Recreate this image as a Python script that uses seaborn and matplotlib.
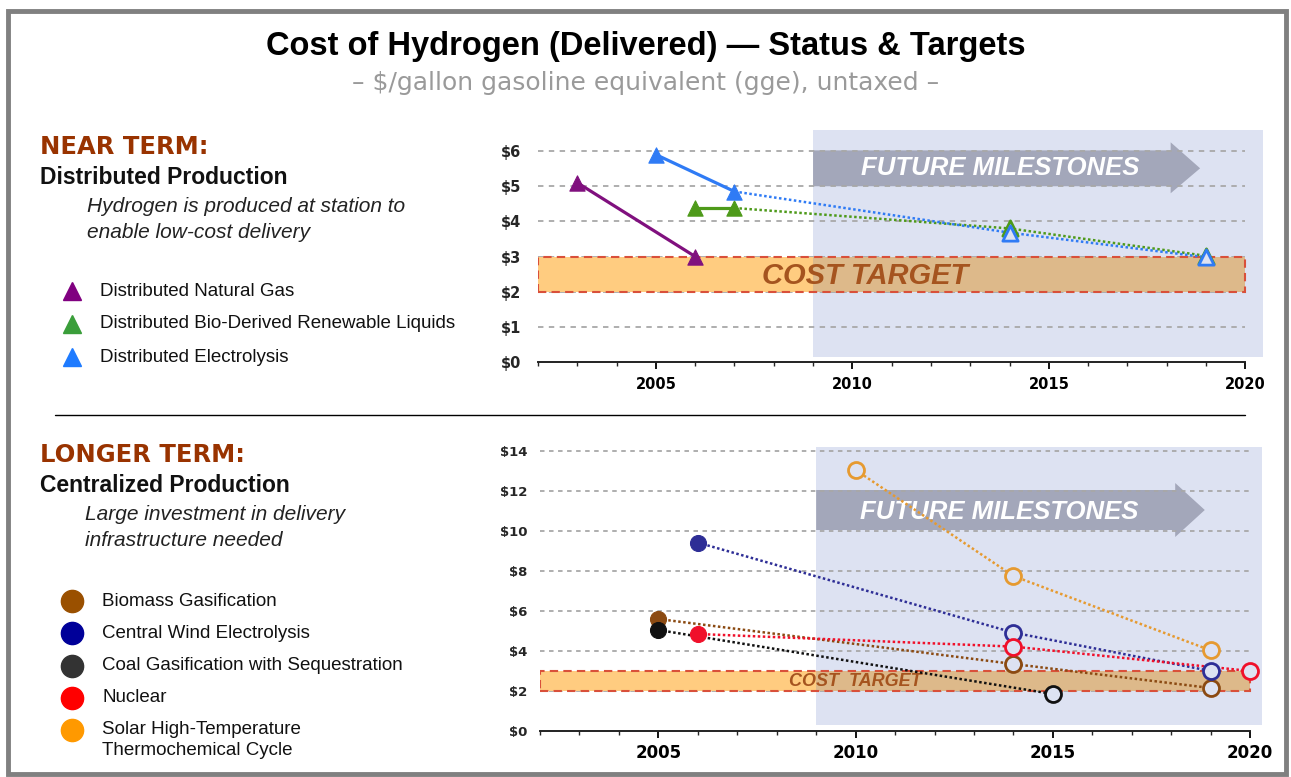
import matplotlib
matplotlib.use("Agg")
import matplotlib.pyplot as plt
import matplotlib.patches as mpatches
from matplotlib.ticker import MultipleLocator, FixedLocator, FuncFormatter
import seaborn as sns
import pandas as pd

# ---------------- data ----------------
# Near term: distributed production ($/gge)
ng_years = [2003, 2006]
ng_cost = [5.1, 3.0]
bio_years = [2006, 2007, 2014, 2019]
bio_cost = [4.38, 4.38, 3.8, 3.02]
elec_years = [2005, 2007, 2014, 2019]
elec_cost = [5.9, 4.85, 3.68, 2.98]
near_names = ["Distributed Natural Gas", "Distributed Bio-Derived Renewable Liquids",
              "Distributed Electrolysis"]
near_status_count = [2, 2, 2]   # leading points that are current status (filled)

# Longer term: centralized production ($/gge)
biomass_years = [2005, 2014, 2019]
biomass_cost = [5.6, 3.35, 2.15]
wind_years = [2006, 2014, 2019]
wind_cost = [9.42, 4.92, 3.0]
coal_years = [2005, 2015]
coal_cost = [5.05, 1.85]
nuclear_years = [2006, 2014, 2020]
nuclear_cost = [4.85, 4.22, 3.0]
solar_years = [2010, 2014, 2019]
solar_cost = [13.05, 7.75, 4.03]
long_names = ["Biomass Gasification", "Central Wind Electrolysis",
              "Coal Gasification with Sequestration", "Nuclear",
              "Solar High-Temperature\nThermochemical Cycle"]
long_status_count = [1, 1, 1, 1, 0]

target_low, target_high = 2.0, 3.0
milestone_start = 2009
near_yticks = [0, 1, 2, 3, 4, 5, 6]
long_yticks = [0, 2, 4, 6, 8, 10, 12, 14]
major_years = [2005, 2010, 2015, 2020]

# ---------------- style ----------------
sns.set_style("white")
plt.rcParams["font.family"] = ["Liberation Sans", "DejaVu Sans"]

W, H = 1291, 777
fig = plt.figure(figsize=(W / 100, H / 100), dpi=100)

SHADE = "#DDE2F2"
ORANGE_FILL = "#FFCC80"
TAN_FILL = "#DDB98A"
TARGET_EDGE = "#D9503A"
TARGET_TEXT = "#A5541F"
ARROW_COL = "#A3A7BA"
GRID_COL = "#A8A8A8"

# overlay axes in pixel coordinates for text / frame
ov = fig.add_axes([0, 0, 1, 1])
ov.set_xlim(0, W)
ov.set_ylim(H, 0)
ov.axis("off")

# frame
ov.add_patch(mpatches.Rectangle((8, 11), 1278, 763, fill=False, ec="#808080", lw=3.5))

ov.text(646, 46, "Cost of Hydrogen (Delivered) \u2014 Status & Targets", ha="center",
        va="center", fontsize=23.5, fontweight="bold", color="black")
ov.text(646, 83, "\u2013 $/gallon gasoline equivalent (gge), untaxed \u2013", ha="center",
        va="center", fontsize=18, color="#9A9A9A", family=["DejaVu Sans"])

# separator
ov.plot([55, 1245], [415, 415], color="black", lw=1.0)


def left_panel(y0, head, sub, italic_lines, italic_x):
    ov.text(40, y0, head, ha="left", va="center", fontsize=17.5, fontweight="bold",
            color="#993300", family=["DejaVu Sans"])
    ov.text(40, y0 + 31, sub, ha="left", va="center", fontsize=16.5, fontweight="bold",
            color="#111111")
    for i, line in enumerate(italic_lines):
        ov.text(italic_x, y0 + 60 + 25 * i, line, ha="left", va="center", fontsize=15,
                style="italic", color="#222222")


left_panel(147, "NEAR TERM:", "Distributed Production",
           ["Hydrogen is produced at station to", "enable low-cost delivery"], 87)
left_panel(455, "LONGER TERM:", "Centralized Production",
           ["Large investment in delivery", "infrastructure needed"], 85)

near_legend_cols = ["#800080", "#3A9E3A", "#1E7BFF"]
long_legend_cols = ["#9A5000", "#000099", "#333333", "#FF0000", "#FF9900"]
near_leg_y = [291, 324, 357]
long_leg_y = [601, 633, 666, 698, 730]
for name, col, yy in zip(near_names, near_legend_cols, near_leg_y):
    ov.plot(72, yy, marker="^", ms=13, color=col, mec=col)
    ov.text(100, yy, name, ha="left", va="center", fontsize=13.5, color="#111111")
for name, col, yy in zip(long_names, long_legend_cols, long_leg_y):
    ov.plot(72, yy, marker="o", ms=16, color=col, mec=col)
    if "\n" in name:
        ov.text(102, yy + 10, name, ha="left", va="center", fontsize=13.5,
                color="#111111", linespacing=1.38)
    else:
        ov.text(102, yy, name, ha="left", va="center", fontsize=13.5, color="#111111")


def px_axes(left, right, top, bottom):
    return fig.add_axes([left / W, (H - bottom) / H, (right - left) / W, (bottom - top) / H])


def style_axes(ax, xmax, ymax, yticks, yfs, ypad, xfs, xpad, gridstyle):
    ax.set_xlim(2002, xmax)
    ax.set_ylim(0, ymax)
    ax.patch.set_alpha(0)
    for s in ["top", "right", "left"]:
        ax.spines[s].set_visible(False)
    ax.spines["bottom"].set_bounds(2002, 2020)
    ax.spines["bottom"].set_color("#222222")
    ax.spines["bottom"].set_linewidth(1.4)
    ax.xaxis.set_major_locator(FixedLocator(major_years))
    ax.xaxis.set_minor_locator(MultipleLocator(1))
    ax.tick_params(axis="x", which="major", direction="out", length=5, width=1.3,
                   pad=xpad, labelsize=xfs, colors="black", bottom=True)
    ax.tick_params(axis="x", which="minor", direction="out", length=3, width=1.0,
                   bottom=True)
    for lab in ax.get_xticklabels():
        lab.set_fontweight("bold")
        lab.set_family("DejaVu Sans")
    ax.set_yticks(yticks)
    ax.yaxis.set_major_formatter(FuncFormatter(lambda v, p: f"${v:.0f}"))
    ax.tick_params(axis="y", length=0, pad=ypad, labelsize=yfs)
    for lab in ax.get_yticklabels():
        lab.set_fontweight("bold")
        lab.set_family("DejaVu Sans")
    ax.set_xlabel("")
    ax.set_ylabel("")
    ax.grid(False)
    # grid lines
    ax.hlines([v for v in yticks if v > 0], 2002, 2020, colors=GRID_COL, lw=1.3,
              linestyles=gridstyle, zorder=2)
    # shaded future region
    ax.axvspan(milestone_start, xmax, ymin=0.02, ymax=1, color=SHADE, lw=0, zorder=0)


def cost_target(ax, label, x, fs):
    ax.add_patch(mpatches.Rectangle((2002, target_low), milestone_start - 2002,
                                    target_high - target_low, fc=ORANGE_FILL, ec="none", zorder=3))
    ax.add_patch(mpatches.Rectangle((milestone_start, target_low), 2020 - milestone_start,
                                    target_high - target_low, fc=TAN_FILL, ec="none", zorder=3))
    ax.add_patch(mpatches.Rectangle((2002, target_low), 18, target_high - target_low,
                                    fill=False, ec=TARGET_EDGE, lw=1.5, ls=(0, (4, 2.5)), zorder=3.1))
    ax.text(x, (target_low + target_high) / 2 - 0.05, label, ha="center", va="center",
            fontsize=fs, fontweight="bold", style="italic", color=TARGET_TEXT, zorder=3.5)


def milestone_arrow(ax, body_lo, body_hi, head_lo, head_hi, body_end, tip, fs, ytxt, xtxt):
    pts = [(milestone_start, body_lo), (body_end, body_lo), (body_end, head_lo), (tip, (body_lo + body_hi) / 2),
           (body_end, head_hi), (body_end, body_hi), (milestone_start, body_hi)]
    ax.add_patch(mpatches.Polygon(pts, closed=True, fc=ARROW_COL, ec="none", zorder=1))
    ax.text(xtxt, ytxt, "FUTURE MILESTONES", ha="center", va="center", fontsize=fs,
            fontweight="bold", style="italic", color="white", zorder=1.5)


def draw_series(ax, years, cost, color, marker, ms, status_n, solid_status, lw, mew):
    df = pd.DataFrame({"year": years, "cost": cost})
    k = status_n
    if k >= 2:
        sns.lineplot(data=df.iloc[:k], x="year", y="cost", ax=ax, color=color,
                     lw=lw + 0.5, linestyle="-" if solid_status else (0, (1, 1)),
                     sort=False, estimator=None, legend=False, zorder=4)
    fut_start = max(k - 1, 0)
    if len(df) - fut_start >= 2:
        sns.lineplot(data=df.iloc[fut_start:], x="year", y="cost", ax=ax, color=color,
                     lw=lw, linestyle=(0, (1, 1)), sort=False, estimator=None,
                     legend=False, zorder=4)
    if k > 0:
        sns.scatterplot(data=df.iloc[:k], x="year", y="cost", ax=ax, marker=marker,
                        s=ms ** 2, color=color, edgecolor=color,
                        linewidth=0.8, zorder=6, legend=False)
    if len(df) > k:
        sns.scatterplot(data=df.iloc[k:], x="year", y="cost", ax=ax, marker=marker,
                        s=ms ** 2, color=SHADE, edgecolor=color, linewidth=mew,
                        zorder=6, legend=False)


# ---------------- top chart ----------------
ax1 = px_axes(538, 1263, 130, 362)
near_years = [ng_years, bio_years, elec_years]
near_costs = [ng_cost, bio_cost, elec_cost]
near_cols = ["#80107E", "#4E9A1A", "#2F7BF5"]
for yrs, cst, col, k in zip(near_years, near_costs, near_cols, near_status_count):
    draw_series(ax1, yrs, cst, col, "^", 11, k, True, 1.8, 2.0)
style_axes(ax1, 2020.45, 6.6, near_yticks, 10.5, 12, 10.5, 6, (0, (3, 3)))
cost_target(ax1, "COST TARGET", 2010.32, 21)
milestone_arrow(ax1, 5.0, 6.02, 4.8, 6.25, 2018.1, 2018.85, 18.5, 5.52, 2013.75)

# ---------------- bottom chart ----------------
ax2 = px_axes(540, 1262, 447, 731)
long_years = [biomass_years, wind_years, coal_years, nuclear_years, solar_years]
long_costs = [biomass_cost, wind_cost, coal_cost, nuclear_cost, solar_cost]
long_cols = ["#8B4A12", "#2E2E96", "#111111", "#F0102A", "#E69A30"]
for yrs, cst, col, k in zip(long_years, long_costs, long_cols, long_status_count):
    draw_series(ax2, yrs, cst, col, "o", 11.5, k, False, 1.8, 2.0)
style_axes(ax2, 2020.3, 14.2, long_yticks, 9.5, 9, 12, 4, (0, (2.5, 2.5)))
cost_target(ax2, "COST  TARGET", 2010.0, 13)
milestone_arrow(ax2, 10.05, 12.05, 9.7, 12.4, 2018.1, 2018.85, 18.5, 10.95, 2013.65)

fig.savefig("out.png", dpi=100)
